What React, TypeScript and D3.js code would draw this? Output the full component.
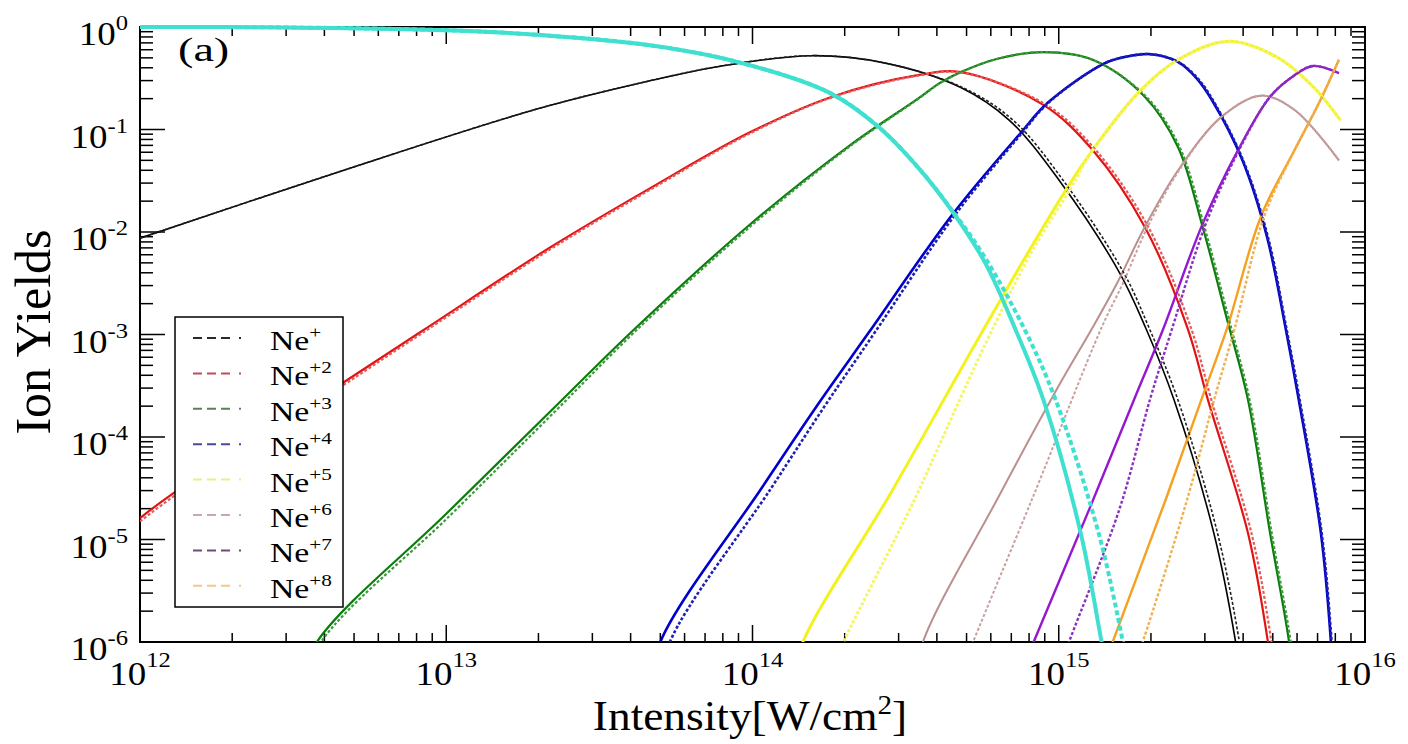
import React from 'react';
import * as d3 from 'd3';

type Pt = [number, number];

// Ion yields vs. peak laser intensity (W/cm^2). "A" curves are solid, "B" curves dashed.
const ne0A: Pt[] = [[1e12, 1.0], [3e12, 0.99], [1e13, 0.93], [2.03e13, 0.835], [4.68e13, 0.66], [8.91e13, 0.457], [1.78e14, 0.229], [2.57e14, 0.107], [3.47e14, 0.0427], [4.47e14, 0.0162], [5.75e14, 5.0e-3], [7.24e14, 1.1e-3], [8.91e14, 2.3e-4], [1.18e15, 1.15e-5], [1.38e15, 1.0e-6], [1.48e15, 3.2e-7]];
const ne0B: Pt[] = [[1e12, 1.0], [3e12, 0.99], [1e13, 0.93], [2.03e13, 0.835], [4.68e13, 0.66], [8.91e13, 0.457], [1.78e14, 0.229], [2.57e14, 0.107], [3.47e14, 0.0427], [4.47e14, 0.0165], [5.75e14, 5.6e-3], [7.76e14, 1.1e-3], [9.77e14, 2.3e-4], [1.35e15, 1.15e-5], [1.62e15, 1.0e-6], [1.74e15, 3.2e-7]];

const ne1A: Pt[] = [[1e12, 8.7e-3], [4.5e12, 3.9e-2], [2.03e13, 0.162], [4.65e13, 0.30], [7.67e13, 0.41], [1.55e14, 0.525], [2.69e14, 0.447], [4.79e14, 0.257], [6.9e14, 0.123], [1e15, 0.0324], [1.58e15, 4.0e-3], [1.92e15, 1.17e-3], [2.38e15, 2.3e-4], [3.21e15, 1.15e-5], [3.78e15, 1e-6], [3.98e15, 3.2e-7]];
const ne1B: Pt[] = [[1e12, 8.7e-3], [4.5e12, 3.9e-2], [2.03e13, 0.162], [4.65e13, 0.30], [7.67e13, 0.41], [1.55e14, 0.525], [2.69e14, 0.447], [4.85e14, 0.257], [7.1e14, 0.123], [1.03e15, 0.0324], [1.63e15, 4.0e-3], [1.97e15, 1.17e-3], [2.45e15, 2.3e-4], [3.30e15, 1.15e-5], [3.89e15, 1e-6], [4.1e15, 3.2e-7]];

const ne2A: Pt[] = [[1e12, 1.62e-5], [1.28e12, 2.8e-5], [4.68e12, 3.5e-4], [8.41e12, 1.1e-3], [2.19e13, 7.1e-3], [4.65e13, 0.0269], [9.77e13, 0.0933], [1.82e14, 0.209], [3.47e14, 0.339], [4.79e14, 0.363], [8.91e14, 0.174], [1.29e15, 0.063], [1.91e15, 0.0112], [2.63e15, 1.17e-3], [3.07e15, 2.3e-4], [4.15e15, 1.15e-5], [4.82e15, 1e-6], [5.16e15, 2e-7]];
const ne2B: Pt[] = [[1e12, 1.5e-5], [1.28e12, 2.6e-5], [4.68e12, 3.3e-4], [8.41e12, 1.05e-3], [2.19e13, 6.8e-3], [4.65e13, 0.026], [9.77e13, 0.091], [1.82e14, 0.206], [3.47e14, 0.335], [4.79e14, 0.36], [9.1e14, 0.174], [1.32e15, 0.063], [1.96e15, 0.0112], [2.7e15, 1.17e-3], [3.15e15, 2.3e-4], [4.26e15, 1.15e-5], [4.95e15, 1e-6], [5.3e15, 2e-7]];

const ne3A: Pt[] = [[3.2e12, 3e-7], [3.78e12, 1e-6], [1e13, 1.78e-5], [2.19e13, 1.78e-4], [4.08e13, 1.1e-3], [9.77e13, 0.0117], [2.09e14, 0.0708], [3.47e14, 0.2], [4.07e14, 0.282], [4.79e14, 0.363], [6.31e14, 0.49], [8.91e14, 0.569], [1.29e15, 0.479], [1.91e15, 0.209], [2.45e15, 0.0676], [2.95e15, 0.0112], [3.55e15, 1.38e-3], [4.15e15, 2.3e-4], [4.9e15, 1.15e-5], [5.65e15, 1e-6], [5.9e15, 3e-7]];
const ne3B: Pt[] = [[3.3e12, 3e-7], [3.9e12, 1e-6], [1.03e13, 1.72e-5], [2.25e13, 1.74e-4], [4.15e13, 1.08e-3], [9.9e13, 0.0115], [2.1e14, 0.07], [3.47e14, 0.198], [4.07e14, 0.28], [4.79e14, 0.361], [6.31e14, 0.49], [8.91e14, 0.569], [1.29e15, 0.479], [1.93e15, 0.209], [2.48e15, 0.0676], [2.99e15, 0.0112], [3.6e15, 1.38e-3], [4.2e15, 2.3e-4], [4.96e15, 1.15e-5], [5.72e15, 1e-6], [5.98e15, 3e-7]];

const ne4A: Pt[] = [[4.6e13, 3e-7], [5.0e13, 1e-6], [1.07e14, 3.16e-5], [1.62e14, 2.0e-4], [2.4e14, 1.05e-3], [4.47e14, 0.0145], [7.52e14, 0.093], [9.2e14, 0.182], [1.4e15, 0.437], [1.66e15, 0.513], [2.0e15, 0.543], [2.45e15, 0.457], [2.82e15, 0.316], [3.16e15, 0.195], [3.98e15, 0.05], [4.79e15, 8.9e-3], [5.5e15, 1.17e-3], [6.08e15, 2.3e-4], [7.18e15, 1.15e-5], [7.74e15, 1e-6], [7.95e15, 2e-7]];
const ne4B: Pt[] = [[4.9e13, 3e-7], [5.37e13, 1e-6], [1.15e14, 3.16e-5], [1.72e14, 2.0e-4], [2.51e14, 1.05e-3], [4.57e14, 0.0145], [7.6e14, 0.093], [9.25e14, 0.182], [1.4e15, 0.437], [1.66e15, 0.513], [2.0e15, 0.543], [2.45e15, 0.457], [2.84e15, 0.316], [3.18e15, 0.195], [4.0e15, 0.05], [4.82e15, 8.9e-3], [5.53e15, 1.17e-3], [6.12e15, 2.3e-4], [7.22e15, 1.15e-5], [7.78e15, 1e-6], [8.0e15, 2e-7]];

const ne5A: Pt[] = [[1.3e14, 3e-7], [1.46e14, 1e-6], [2.82e14, 2.8e-5], [5.56e14, 1.0e-3], [7.94e14, 6.3e-3], [1.07e15, 0.0275], [1.29e15, 0.063], [1.82e15, 0.229], [2.45e15, 0.479], [3.55e15, 0.724], [5.13e15, 0.513], [6.76e15, 0.263], [8.32e15, 0.123]];
const ne5B: Pt[] = [[1.65e14, 3e-7], [1.98e14, 1e-6], [3.39e14, 2.5e-5], [4.79e14, 2.45e-4], [5.96e14, 1.0e-3], [8.13e14, 6.3e-3], [1.1e15, 0.0275], [1.29e15, 0.063], [1.82e15, 0.229], [2.45e15, 0.479], [3.55e15, 0.724], [5.13e15, 0.513], [6.76e15, 0.263], [8.32e15, 0.123]];

const ne6A: Pt[] = [[3.3e14, 3e-7], [3.6e14, 1e-6], [6.31e14, 2.5e-5], [1e15, 3.16e-4], [1.29e15, 1.17e-3], [1.55e15, 3.16e-3], [1.91e15, 0.0112], [2.45e15, 0.0398], [3.39e15, 0.132], [4.57e15, 0.214], [5.89e15, 0.155], [8.22e15, 0.05]];
const ne6B: Pt[] = [[4.47e14, 3e-7], [5.25e14, 1e-6], [8.32e14, 2.8e-5], [1.38e15, 1.17e-3], [1.62e15, 3.16e-3], [1.95e15, 0.0112], [2.47e15, 0.0398], [3.39e15, 0.132], [4.57e15, 0.214], [5.89e15, 0.155], [8.22e15, 0.05]];

const ne7A: Pt[] = [[7.05e14, 3e-7], [8.28e14, 1e-6], [1.26e15, 2.0e-5], [1.78e15, 2.5e-4], [2.19e15, 1.12e-3], [2.95e15, 0.012], [3.85e15, 0.063], [4.9e15, 0.209], [5.89e15, 0.339], [6.76e15, 0.417], [8.22e15, 0.355]];
const ne7B: Pt[] = [[9.3e14, 3e-7], [1.08e15, 1e-6], [1.58e15, 2e-5], [2.0e15, 2.5e-4], [2.34e15, 1.12e-3], [3.02e15, 0.012], [3.88e15, 0.063], [4.9e15, 0.209], [5.89e15, 0.339], [6.76e15, 0.417], [8.22e15, 0.355]];

const ne8A: Pt[] = [[1.3e15, 3e-7], [1.5e15, 1e-6], [2.24e15, 2.5e-5], [2.95e15, 2.5e-4], [3.55e15, 1.17e-3], [4.57e15, 0.0141], [5.89e15, 0.063], [7.08e15, 0.182], [8.22e15, 0.479]];
const ne8B: Pt[] = [[1.63e15, 3e-7], [1.88e15, 1e-6], [2.63e15, 2.5e-5], [3.24e15, 2.5e-4], [3.76e15, 1.17e-3], [4.68e15, 0.0141], [5.89e15, 0.063], [7.08e15, 0.182], [8.22e15, 0.479]];

const chargeLabels = ['+', '+2', '+3', '+4', '+5', '+6', '+7', '+8'];
const ionSolid = [ne1A, ne2A, ne3A, ne4A, ne5A, ne6A, ne7A, ne8A];
const ionDashed = [ne1B, ne2B, ne3B, ne4B, ne5B, ne6B, ne7B, ne8B];
const ionColors = ['#000000', '#e01414', '#0a7d0a', '#0000cc', '#f2f21e', '#bc8f8f', '#9418d0', '#f5a020'];
const ionDashColors = ['#202020', '#e85a5a', '#3f9a3f', '#2020b0', '#f5f565', '#c8a0a0', '#8a30c0', '#f0b050'];
const ionWidths = [1.6, 2.2, 2.2, 2.6, 3.0, 2.0, 2.4, 2.4];
const legendColors = ['#2a2a2a', '#c24a5a', '#5e7e5e', '#4848a0', '#eeee88', '#c9a9a9', '#6e4a7e', '#f2c888'];
const neutralColor = '#40e0d0';

const xTickExps = [12, 13, 14, 15, 16];
const yTickExps = [0, -1, -2, -3, -4, -5, -6];

const FONT = '"Liberation Serif", "Times New Roman", serif';

export default function App() {
  const left = 140, right = 1365, top = 27, bottom = 642;
  const x = d3.scaleLog().domain([1e12, 1e16]).range([left, right]);
  const y = d3.scaleLog().domain([1e-6, 1]).range([bottom, top]);
  const line = d3.line<Pt>().x(d => x(d[0])).y(d => y(d[1])).curve(d3.curveCatmullRom.alpha(0.5));

  const isMajor = (v: number) => Math.abs(Math.log10(v) - Math.round(Math.log10(v))) < 1e-9;
  const xt = x.ticks();
  const yt = y.ticks();

  return (
    <svg width={1408} height={744} style={{ position: 'absolute', left: 0, top: 0, background: '#fff' }}>
      <defs>
        <clipPath id="plotClip">
          <rect x={left} y={top - 3} width={right - left} height={bottom - top + 3} />
        </clipPath>
      </defs>
      <rect x={0} y={0} width={1408} height={744} fill="#fff" />

      {/* frame */}
      <rect x={left} y={top} width={right - left} height={bottom - top} fill="none" stroke="#000" strokeWidth={2} />

      {/* ticks, pointing inward on all four sides */}
      <g stroke="#000" strokeWidth={1.5}>
        {xt.map((v, i) => {
          const px = x(v);
          const len = isMajor(v) ? 17 : 9;
          return (
            <g key={'xt' + i}>
              <line x1={px} x2={px} y1={bottom} y2={bottom - len} />
              <line x1={px} x2={px} y1={top} y2={top + len} />
            </g>
          );
        })}
        {yt.map((v, i) => {
          const py = y(v);
          const len = isMajor(v) ? 25 : 13;
          return (
            <g key={'yt' + i}>
              <line x1={left} x2={left + len} y1={py} y2={py} />
              <line x1={right} x2={right - len} y1={py} y2={py} />
            </g>
          );
        })}
      </g>

      {/* tick labels */}
      <g fontFamily={FONT} fill="#000">
        {xTickExps.map(e => (
          <g key={'xl' + e} transform={`translate(${x(Math.pow(10, e))},685) scale(1.12,1)`}>
            <text textAnchor="middle" fontSize={33}>
              10<tspan dy={-18} fontSize={22}>{e}</tspan>
            </text>
          </g>
        ))}
        {yTickExps.map(e => (
          <g key={'yl' + e} transform={`translate(128,${y(Math.pow(10, e)) + 18}) scale(1.12,1)`}>
            <text textAnchor="end" fontSize={33}>
              10<tspan dy={-15} fontSize={22}>{e}</tspan>
            </text>
          </g>
        ))}
      </g>

      {/* curves */}
      <g clipPath="url(#plotClip)" fill="none" strokeLinejoin="round">
        {ionSolid.map((s, i) => (
          <path key={'s' + i} d={line(s) || ''} stroke={ionColors[i]} strokeWidth={ionWidths[i]} />
        ))}
        {ionDashed.map((s, i) => (
          <path key={'d' + i} d={line(s) || ''} stroke={ionDashColors[i]} strokeWidth={ionWidths[i]} strokeDasharray="3 2" />
        ))}
        <path d={line(ne0A) || ''} stroke={neutralColor} strokeWidth={4} />
        <path d={line(ne0B) || ''} stroke={neutralColor} strokeWidth={4} strokeDasharray="5 3" />
      </g>

      {/* panel label */}
      <g transform="translate(178,61) scale(1.4,1)">
        <text fontFamily={FONT} fontSize={33}>(a)</text>
      </g>

      {/* legend */}
      <rect x={175} y={317} width={168} height={290} fill="#fff" stroke="#000" strokeWidth={1.5} />
      {chargeLabels.map((c, i) => {
        const ry = 338 + i * 35.4;
        return (
          <g key={'lg' + i}>
            <line x1={193} x2={245} y1={ry} y2={ry} stroke={legendColors[i]} strokeWidth={2} strokeDasharray="9 5 9 5 9 9 2 4" />
            <g transform={`translate(270,${ry + 12}) scale(1.25,1)`}>
              <text fontFamily={FONT} fontSize={27} fill="#000">
                Ne<tspan dy={-12} fontSize={17}>{c}</tspan>
              </text>
            </g>
          </g>
        );
      })}

      {/* axis titles */}
      <g transform="translate(750,730) scale(1.08,1)">
        <text textAnchor="middle" fontFamily={FONT} fontSize={42}>
          Intensity[W/cm<tspan dy={-16} fontSize={27}>2</tspan><tspan dy={16}>]</tspan>
        </text>
      </g>
      <g transform="translate(50,332) rotate(-90)">
        <text textAnchor="middle" fontFamily={FONT} fontSize={50}>Ion Yields</text>
      </g>
    </svg>
  );
}
